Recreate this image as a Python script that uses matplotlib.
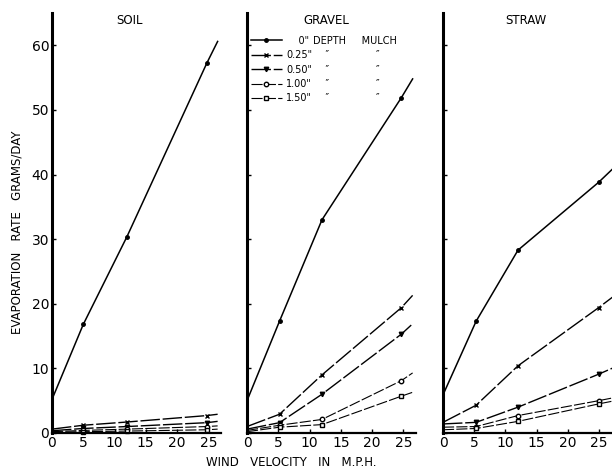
import matplotlib
matplotlib.use("Agg")
import matplotlib.pyplot as plt
from matplotlib.lines import Line2D

plt.rcParams['font.family'] = ['DejaVu Sans']

# ---------------- data ----------------
panels = ["SOIL", "GRAVEL", "STRAW"]
depths = ['0"', '0.25"', '0.50"', '1.00"', '1.50"']

# wind velocities of the measured points (last value = end of the drawn line)
wind_soil = [0, 5.0, 12, 24.8, 26.5]
wind_gravel = [0, 5.2, 12, 24.7, 26.5]
wind_straw = [0, 5.3, 12, 24.9, 27.5]

soil_0 = [5.2, 16.8, 30.4, 57.3, 60.6]
soil_025 = [0.6, 1.2, 1.7, 2.7, 2.9]
soil_050 = [0.35, 0.7, 1.0, 1.6, 1.8]
soil_100 = [0.2, 0.4, 0.6, 1.0, 1.1]
soil_150 = [0.1, 0.2, 0.3, 0.5, 0.6]

gravel_0 = [5.0, 17.3, 33.0, 51.9, 54.8]
gravel_025 = [1.0, 2.9, 9.0, 19.4, 21.3]
gravel_050 = [0.6, 1.6, 6.0, 15.3, 16.9]
gravel_100 = [0.4, 1.2, 2.1, 8.1, 9.3]
gravel_150 = [0.2, 0.9, 1.3, 5.7, 6.3]

straw_0 = [5.9, 17.3, 28.3, 38.8, 41.2]
straw_025 = [1.65, 4.3, 10.4, 19.4, 21.3]
straw_050 = [1.4, 1.65, 4.0, 9.1, 10.2]
straw_100 = [0.9, 1.0, 2.7, 5.0, 5.5]
straw_150 = [0.5, 0.7, 1.8, 4.5, 5.0]

x_ticks = [0, 5, 10, 15, 20, 25]
y_ticks = [0, 10, 20, 30, 40, 50, 60]

# ---------------- styling ----------------
styles = [
    dict(marker='o', ms=2.5, mfc='black', ls='-', lw=1.1),
    dict(marker='x', ms=3.2, mew=1.0, ls=(0, (14, 2)), lw=1.0),
    dict(marker='v', ms=3.2, mfc='black', ls=(0, (14, 2)), lw=1.0),
    dict(marker='o', ms=3.2, mfc='white', ls=(0, (10, 2)), lw=0.8),
    dict(marker='s', ms=3.2, mfc='white', ls=(0, (10, 2)), lw=0.8),
]

data = {
    "SOIL": (wind_soil, [soil_0, soil_025, soil_050, soil_100, soil_150]),
    "GRAVEL": (wind_gravel, [gravel_0, gravel_025, gravel_050, gravel_100, gravel_150]),
    "STRAW": (wind_straw, [straw_0, straw_025, straw_050, straw_100, straw_150]),
}

W, H = 612, 467
fig = plt.figure(figsize=(W / 100, H / 100), dpi=100)

bottom = 1 - 433 / H
height = (433 - 13) / H
px_per_x = 6.25
layout = {
    "SOIL": (52, 27.0),
    "GRAVEL": (247, 27.0),
    "STRAW": (443, 27.5),
}
title_x = {"SOIL": 0.46, "GRAVEL": 0.47, "STRAW": 0.48}

axes = {}
for name in panels:
    left_px, xmax = layout[name]
    ax = fig.add_axes([left_px / W, bottom, xmax * px_per_x / W, height])
    axes[name] = ax
    wind, series = data[name]
    for vals, st in zip(series, styles):
        ax.plot(wind, vals, color='black', mec='black', markevery=[1, 2, 3],
                clip_on=False, **st)
    ax.set_xlim(0, xmax)
    ax.set_ylim(0, 65)
    ax.set_xticks(x_ticks)
    ax.set_xticklabels([str(t) for t in x_ticks])
    ax.set_yticks(y_ticks)
    ax.spines['top'].set_visible(False)
    ax.spines['right'].set_visible(False)
    ax.spines['left'].set_linewidth(2.2)
    ax.spines['bottom'].set_linewidth(1.6)
    ax.tick_params(direction='in', length=3, width=1, labelsize=10, pad=2)
    if name != "SOIL":
        ax.tick_params(axis='y', labelleft=False)
    ax.text(title_x[name], 0.983, name, transform=ax.transAxes,
            ha='center', va='center', fontsize=8.5)

# legend in the gravel panel (two columns: depth / "DEPTH  MULCH" with dittos)
ax = axes["GRAVEL"]
handles = [Line2D([], [], color='black', mec='black', **st) for st in styles]
blank = [Line2D([], [], ls='none') for _ in range(5)]
labels = ['    ' + depths[0]] + depths[1:]
col2 = ['DEPTH     MULCH'] + ['    \u2033               \u2033'] * 4
leg = ax.legend(handles + blank, labels + col2, ncol=2,
                loc='upper left', bbox_to_anchor=(0.0, 0.955),
                frameon=False, fontsize=7, handlelength=3.2,
                handletextpad=0.4, columnspacing=-3.45, labelspacing=0.45,
                borderaxespad=0.0)

fig.text(17 / W, 1 - 232 / H, "EVAPORATION   RATE   GRAMS/DAY", rotation=90,
         ha='center', va='center', fontsize=8.5)
fig.text(291 / W, 1 - 462 / H, "WIND   VELOCITY   IN   M.P.H.",
         ha='center', va='center', fontsize=8.5)

fig.savefig("out.png", dpi=100)
